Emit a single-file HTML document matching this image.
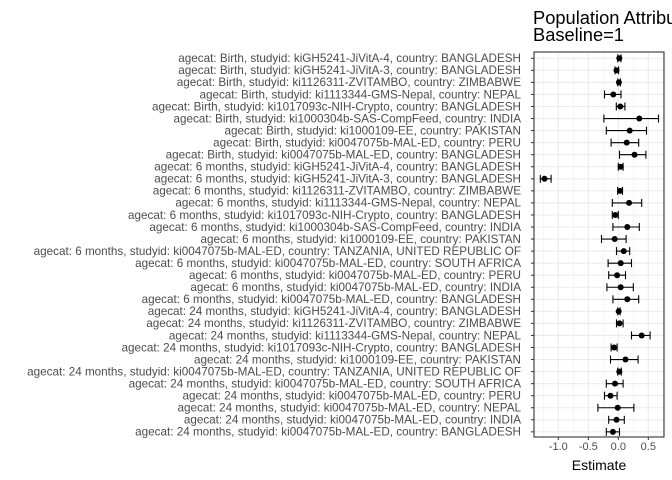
<!DOCTYPE html>
<html><head><meta charset="utf-8"><style>
html,body{margin:0;padding:0;background:#fff;}
svg{display:block;font-family:"Liberation Sans",sans-serif;}
</style></head><body>
<svg id="chart" width="672" height="480" viewBox="0 0 672 480" xmlns="http://www.w3.org/2000/svg">
<text x="533" y="24" font-size="18.3" fill="#000">Population Attributable</text>
<text x="533" y="41" font-size="18.3" fill="#000">Baseline=1</text>
<g id="grid"></g><g id="marks"></g><g id="axes"></g>
<text x="599" y="470" font-size="14" text-anchor="middle" fill="#000">Estimate</text>
</svg>
<script>
const labels = [
"agecat: Birth, studyid: kiGH5241-JiVitA-4, country: BANGLADESH",
"agecat: Birth, studyid: kiGH5241-JiVitA-3, country: BANGLADESH",
"agecat: Birth, studyid: ki1126311-ZVITAMBO, country: ZIMBABWE",
"agecat: Birth, studyid: ki1113344-GMS-Nepal, country: NEPAL",
"agecat: Birth, studyid: ki1017093c-NIH-Crypto, country: BANGLADESH",
"agecat: Birth, studyid: ki1000304b-SAS-CompFeed, country: INDIA",
"agecat: Birth, studyid: ki1000109-EE, country: PAKISTAN",
"agecat: Birth, studyid: ki0047075b-MAL-ED, country: PERU",
"agecat: Birth, studyid: ki0047075b-MAL-ED, country: BANGLADESH",
"agecat: 6 months, studyid: kiGH5241-JiVitA-4, country: BANGLADESH",
"agecat: 6 months, studyid: kiGH5241-JiVitA-3, country: BANGLADESH",
"agecat: 6 months, studyid: ki1126311-ZVITAMBO, country: ZIMBABWE",
"agecat: 6 months, studyid: ki1113344-GMS-Nepal, country: NEPAL",
"agecat: 6 months, studyid: ki1017093c-NIH-Crypto, country: BANGLADESH",
"agecat: 6 months, studyid: ki1000304b-SAS-CompFeed, country: INDIA",
"agecat: 6 months, studyid: ki1000109-EE, country: PAKISTAN",
"agecat: 6 months, studyid: ki0047075b-MAL-ED, country: TANZANIA, UNITED REPUBLIC OF",
"agecat: 6 months, studyid: ki0047075b-MAL-ED, country: SOUTH AFRICA",
"agecat: 6 months, studyid: ki0047075b-MAL-ED, country: PERU",
"agecat: 6 months, studyid: ki0047075b-MAL-ED, country: INDIA",
"agecat: 6 months, studyid: ki0047075b-MAL-ED, country: BANGLADESH",
"agecat: 24 months, studyid: kiGH5241-JiVitA-4, country: BANGLADESH",
"agecat: 24 months, studyid: ki1126311-ZVITAMBO, country: ZIMBABWE",
"agecat: 24 months, studyid: ki1113344-GMS-Nepal, country: NEPAL",
"agecat: 24 months, studyid: ki1017093c-NIH-Crypto, country: BANGLADESH",
"agecat: 24 months, studyid: ki1000109-EE, country: PAKISTAN",
"agecat: 24 months, studyid: ki0047075b-MAL-ED, country: TANZANIA, UNITED REPUBLIC OF",
"agecat: 24 months, studyid: ki0047075b-MAL-ED, country: SOUTH AFRICA",
"agecat: 24 months, studyid: ki0047075b-MAL-ED, country: PERU",
"agecat: 24 months, studyid: ki0047075b-MAL-ED, country: NEPAL",
"agecat: 24 months, studyid: ki0047075b-MAL-ED, country: INDIA",
"agecat: 24 months, studyid: ki0047075b-MAL-ED, country: BANGLADESH"
];
const estimates = [0.017,-0.03,0.01,-0.083,0.033,0.35,0.19,0.14,0.27,0.04,-1.23,0.03,0.18,-0.05,0.15,-0.06,0.09,0.04,-0.02,0.04,0.15,0.006,0.02,0.39,-0.07,0.12,0.017,-0.055,-0.13,-0.01,-0.03,-0.09];
const lower = [-0.01,-0.055,-0.01,-0.23,-0.033,-0.24,-0.2,-0.12,0.02,0,-1.3,-0.01,-0.1,-0.1,-0.09,-0.28,-0.03,-0.17,-0.16,-0.19,-0.09,-0.01,-0.03,0.22,-0.12,-0.13,-0.01,-0.2,-0.23,-0.34,-0.16,-0.2];
const upper = [0.045,0.005,0.035,0.045,0.11,0.67,0.47,0.34,0.46,0.08,-1.12,0.07,0.39,0,0.35,0.13,0.19,0.22,0.12,0.25,0.34,0.03,0.08,0.53,-0.02,0.33,0.05,0.08,-0.02,0.26,0.1,0.02];
const xTicks = [-1.0,-0.5,0.0,0.5];
const xTickLabels = ["-1.0","-0.5","0.0","0.5"];
const xMinor = [-1.25,-0.75,-0.25,0.25,0.75];

const NS="http://www.w3.org/2000/svg";
const L=534,R=664,T=52,B=437;
const X=v=>618.3+v*60;
const Y=i=>58.3+i*12.05;
function mk(tag,attrs,parent){const e=document.createElementNS(NS,tag);for(const k in attrs)e.setAttribute(k,attrs[k]);parent.appendChild(e);return e;}
const grid=document.getElementById('grid'),marks=document.getElementById('marks'),axes=document.getElementById('axes');
mk('rect',{x:L,y:T,width:R-L,height:B-T,fill:'#fff'},grid);
xMinor.forEach(v=>{if(X(v)>L&&X(v)<R){const g=mk('line',{x1:X(v),x2:X(v),y1:T,y2:B,stroke:'#f0f0f0','stroke-width':0.6},grid);

}});
xTicks.forEach(v=>{const g=mk('line',{x1:X(v),x2:X(v),y1:T,y2:B,stroke:'#ebebeb','stroke-width':1.1},grid);

});
labels.forEach((s,i)=>{const g=mk('line',{x1:L,x2:R,y1:Y(i),y2:Y(i),stroke:'#ebebeb','stroke-width':1.1},grid);

});
labels.forEach((s,i)=>{
 const e=mk('line',{x1:X(lower[i]),x2:X(upper[i]),y1:Y(i),y2:Y(i),stroke:'#000','stroke-width':1.1},marks);
 
 
 [lower[i],upper[i]].forEach(v=>{const c=mk('line',{x1:X(v),x2:X(v),y1:Y(i)-4,y2:Y(i)+4,stroke:'#000','stroke-width':1.1},marks);
 
 });
 const p=mk('circle',{cx:X(estimates[i]),cy:Y(i),r:3,fill:'#000'},marks);
 
 
 const t=mk('text',{x:521,y:Y(i)+3.8,'font-size':11.7,'text-anchor':'end',fill:'#4d4d4d'},axes);
 t.textContent=s;
 
 
 mk('line',{x1:L-3,x2:L,y1:Y(i),y2:Y(i),stroke:'#333','stroke-width':1},axes);
});
mk('rect',{x:L,y:T,width:R-L,height:B-T,fill:'none',stroke:'#333','stroke-width':1.1},axes);
xTicks.forEach((v,i)=>{mk('line',{x1:X(v),x2:X(v),y1:B,y2:B+3,stroke:'#333'},axes);
 const t=mk('text',{x:X(v),y:B+13,'font-size':11,'text-anchor':'middle',fill:'#4d4d4d'},axes);
 t.textContent=xTickLabels[i];
 
 });
</script>
</body></html>
